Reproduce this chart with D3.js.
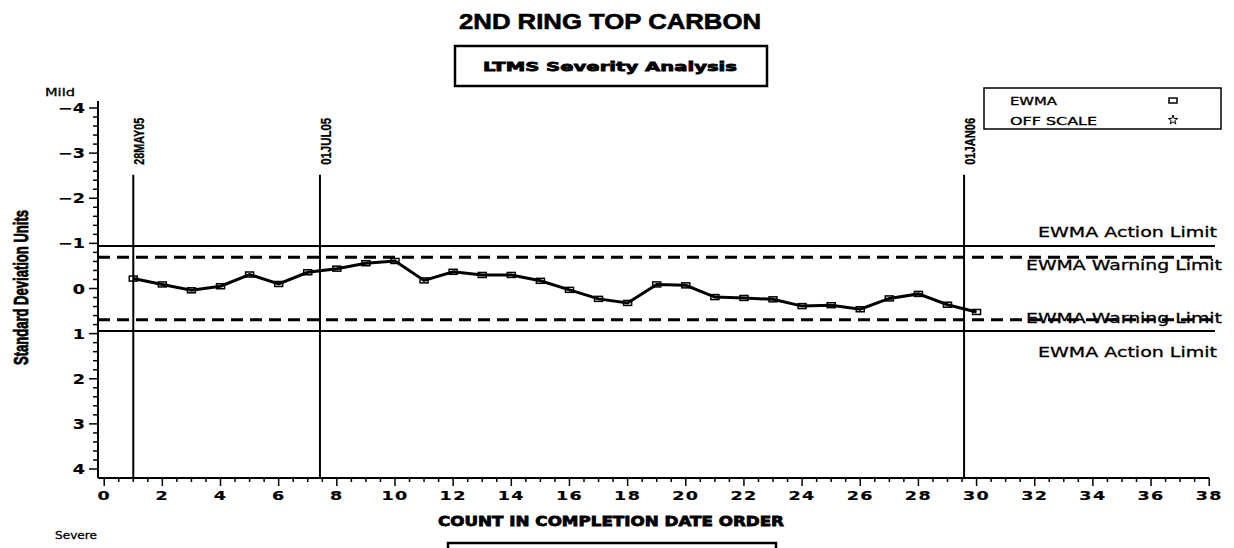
<!DOCTYPE html>
<html>
<head>
<meta charset="utf-8">
<script src="https://cdn.jsdelivr.net/npm/d3@7"></script>
<style>
  html, body { margin: 0; padding: 0; background: #fff; }
  svg { display: block; }
</style>
</head>
<body>
<svg id="chart" width="1234" height="548"></svg>
<script>
// ---------- data ----------
const counts = [1,2,3,4,5,6,7,8,9,10,11,12,13,14,15,16,17,18,19,20,21,22,23,24,25,26,27,28,29,30];
const ewma = [-0.22,-0.09,0.04,-0.05,-0.31,-0.10,-0.36,-0.44,-0.56,-0.61,
              -0.18,-0.37,-0.30,-0.30,-0.17,0.03,0.23,0.32,-0.09,-0.07,
              0.19,0.21,0.24,0.39,0.37,0.46,0.22,0.12,0.36,0.52];
const refDates = ["28MAY05","01JUL05","01JAN06"];
const refCounts = [1, 7.42, 29.57];
const actionLimits = [-0.94, 0.94];
const warningLimits = [-0.69, 0.69];
const xTicks = d3.range(0, 39, 2);
const yTicks = [-4,-3,-2,-1,0,1,2,3,4];
const yTickLabels = ["\u22124","\u22123","\u22122","\u22121","0","1","2","3","4"];

// ---------- layout ----------
const svg = d3.select("#chart");
const x = d3.scaleLinear().domain([0, 38]).range([104.2, 1209.2]);
const y = d3.scaleLinear().domain([-4, 4]).range([108, 469]);
const axisLeftX = 98, axisBottomY = 478, axisTopY = 101;

const simplex = "'DejaVu Sans', sans-serif";
const narrow = "'Liberation Sans', Arial, sans-serif";

// title
svg.append("text").attr("x", 459).attr("y", 29)
  .attr("textLength", 302).attr("lengthAdjust", "spacingAndGlyphs")
  .attr("stroke", "#000").attr("stroke-width", 0.6)
  .style("font-family", narrow).style("font-weight", "bold").style("font-size", "22px")
  .text("2ND RING TOP CARBON");

// subtitle box
svg.append("rect").attr("x", 455).attr("y", 46).attr("width", 312).attr("height", 40)
  .attr("fill", "none").attr("stroke", "#000").attr("stroke-width", 2.5);
svg.append("text").attr("x", 483).attr("y", 71)
  .attr("textLength", 254).attr("lengthAdjust", "spacingAndGlyphs")
  .attr("stroke", "#000").attr("stroke-width", 0.8)
  .style("font-family", simplex).style("font-weight", "bold").style("font-size", "13px")
  .text("LTMS Severity Analysis");

// legend
svg.append("rect").attr("x", 984).attr("y", 88).attr("width", 237).attr("height", 41)
  .attr("fill", "none").attr("stroke", "#000").attr("stroke-width", 1.5);
svg.append("text").attr("x", 1010).attr("y", 105)
  .attr("textLength", 47).attr("lengthAdjust", "spacingAndGlyphs")
  .attr("stroke", "#000").attr("stroke-width", 0.3)
  .style("font-family", simplex).style("font-size", "10px").text("EWMA");
svg.append("text").attr("x", 1010).attr("y", 125)
  .attr("textLength", 87).attr("lengthAdjust", "spacingAndGlyphs")
  .attr("stroke", "#000").attr("stroke-width", 0.3)
  .style("font-family", simplex).style("font-size", "10px").text("OFF SCALE");
svg.append("rect").attr("x", 1169).attr("y", 98).attr("width", 8).attr("height", 5)
  .attr("fill", "none").attr("stroke", "#000").attr("stroke-width", 1.5);
svg.append("path").attr("transform", "translate(1173,120)")
  .attr("d", d3.symbol(d3.symbolStar, 28)())
  .attr("fill", "none").attr("stroke", "#000").attr("stroke-width", 1);

// Mild / Severe
svg.append("text").attr("x", 45).attr("y", 96)
  .attr("textLength", 30).attr("lengthAdjust", "spacingAndGlyphs")
  .attr("stroke", "#000").attr("stroke-width", 0.3)
  .style("font-family", simplex).style("font-size", "11px").text("Mild");
svg.append("text").attr("x", 55).attr("y", 539)
  .attr("textLength", 42).attr("lengthAdjust", "spacingAndGlyphs")
  .attr("stroke", "#000").attr("stroke-width", 0.3)
  .style("font-family", simplex).style("font-size", "11px").text("Severe");

// y axis label
svg.append("text")
  .attr("transform", "translate(28,365) rotate(-90)")
  .attr("textLength", 155).attr("lengthAdjust", "spacingAndGlyphs")
  .attr("stroke", "#000").attr("stroke-width", 0.8)
  .style("font-family", narrow).style("font-weight", "bold").style("font-size", "20px")
  .text("Standard Deviation Units");

// ---------- axes ----------
const gy = svg.append("g").attr("transform", `translate(${axisLeftX},0)`);
gy.append("line").attr("x1", 0).attr("x2", 0).attr("y1", axisTopY).attr("y2", axisBottomY)
  .attr("stroke", "#000").attr("stroke-width", 2);
const yMinor = d3.range(-4, 4.0001, 0.2).filter(v => Math.abs(v - Math.round(v)) > 1e-6);
gy.selectAll(".ymin").data(yMinor).join("line")
  .attr("x1", -5).attr("x2", 0).attr("y1", d => y(d)).attr("y2", d => y(d))
  .attr("stroke", "#000").attr("stroke-width", 1.5);
gy.selectAll(".ymaj").data(yTicks).join("line")
  .attr("x1", -9).attr("x2", 0).attr("y1", d => y(d)).attr("y2", d => y(d))
  .attr("stroke", "#000").attr("stroke-width", 1.5);
gy.selectAll(".ylab").data(yTicks).join("text")
  .attr("transform", d => `translate(-13,${y(d) + 5}) scale(1.3,1)`)
  .attr("text-anchor", "end")
  .attr("stroke", "#000").attr("stroke-width", 0.2)
  .style("font-family", simplex).style("font-weight", "bold").style("font-size", "13.5px")
  .text((d, i) => yTickLabels[i]);

const gx = svg.append("g").attr("transform", `translate(0,${axisBottomY})`);
gx.append("line").attr("x1", axisLeftX).attr("x2", x(38)).attr("y1", 0).attr("y2", 0)
  .attr("stroke", "#000").attr("stroke-width", 2);
const xMinor = d3.range(0, 38.001, 0.5).filter(v => v % 2 !== 0);
gx.selectAll(".xmin").data(xMinor).join("line")
  .attr("x1", d => x(d)).attr("x2", d => x(d)).attr("y1", 0).attr("y2", 4)
  .attr("stroke", "#000").attr("stroke-width", 1.5);
gx.selectAll(".xmaj").data(xTicks).join("line")
  .attr("x1", d => x(d)).attr("x2", d => x(d)).attr("y1", 0).attr("y2", 8)
  .attr("stroke", "#000").attr("stroke-width", 1.5);
gx.selectAll(".xlab").data(xTicks).join("text")
  .attr("transform", d => `translate(${x(d)},22) scale(1.35,1)`)
  .attr("text-anchor", "middle")
  .attr("stroke", "#000").attr("stroke-width", 0.2)
  .style("font-family", simplex).style("font-weight", "bold").style("font-size", "13px")
  .style("letter-spacing", "1px")
  .text(d => d);

// x axis label
svg.append("text").attr("x", 438).attr("y", 526)
  .attr("textLength", 346).attr("lengthAdjust", "spacingAndGlyphs")
  .attr("stroke", "#000").attr("stroke-width", 0.8)
  .style("font-family", simplex).style("font-weight", "bold").style("font-size", "14px")
  .text("COUNT IN COMPLETION DATE ORDER");
svg.append("path")
  .attr("d", "M448,552 L448,543 L776,543 L776,552")
  .attr("fill", "none").attr("stroke", "#000").attr("stroke-width", 2.5);

// ---------- reference lines ----------
svg.selectAll(".act").data(actionLimits).join("line")
  .attr("x1", axisLeftX).attr("x2", 1215).attr("y1", d => y(d)).attr("y2", d => y(d))
  .attr("stroke", "#000").attr("stroke-width", 2);
svg.selectAll(".warn").data(warningLimits).join("line")
  .attr("x1", axisLeftX).attr("x2", 1215).attr("y1", d => y(d)).attr("y2", d => y(d))
  .attr("stroke", "#000").attr("stroke-width", 3).attr("stroke-dasharray", "12,7");

// limit labels
const limitLabels = [
  {t: "EWMA Action Limit", v: actionLimits[0], dy: -9, right: 1217, w: 179},
  {t: "EWMA Warning Limit", v: warningLimits[0], dy: 13, right: 1222, w: 196},
  {t: "EWMA Warning Limit", v: warningLimits[1], dy: 3, right: 1222, w: 196},
  {t: "EWMA Action Limit", v: actionLimits[1], dy: 26, right: 1217, w: 179}
];
svg.selectAll(".limlab").data(limitLabels).join("text")
  .attr("x", d => d.right - d.w).attr("y", d => y(d.v) + d.dy)
  .attr("textLength", d => d.w).attr("lengthAdjust", "spacingAndGlyphs")
  .attr("stroke", "#000").attr("stroke-width", 0.3)
  .style("font-family", simplex).style("font-size", "14px")
  .text(d => d.t);

// vertical date lines
svg.selectAll(".vref").data(refCounts).join("line")
  .attr("x1", d => x(d)).attr("x2", d => x(d)).attr("y1", y(-2.52)).attr("y2", axisBottomY)
  .attr("stroke", "#000").attr("stroke-width", 2);
svg.selectAll(".vlab").data(refCounts).join("text")
  .attr("transform", d => `translate(${x(d) + 11},${y(-2.74)}) rotate(-90)`)
  .attr("textLength", 47).attr("lengthAdjust", "spacingAndGlyphs")
  .attr("stroke", "#000").attr("stroke-width", 0.3)
  .style("font-family", narrow).style("font-weight", "bold").style("font-size", "14px")
  .text((d, i) => refDates[i]);

// ---------- EWMA series ----------
const pts = counts.map((c, i) => [c, ewma[i]]);
svg.append("path").datum(pts)
  .attr("d", d3.line().x(d => x(d[0])).y(d => y(d[1])))
  .attr("fill", "none").attr("stroke", "#000").attr("stroke-width", 3);
svg.selectAll(".mk").data(pts).join("rect")
  .attr("x", d => x(d[0]) - 4).attr("y", d => y(d[1]) - 2.5)
  .attr("width", 8).attr("height", 5)
  .attr("fill", "none").attr("stroke", "#000").attr("stroke-width", 1.5);
</script>
</body>
</html>
